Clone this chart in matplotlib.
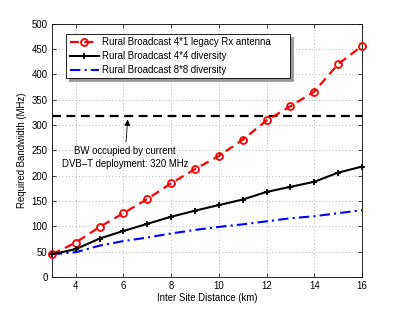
import matplotlib
matplotlib.use("Agg")
import matplotlib.pyplot as plt

plt.rcParams['font.family'] = ['Liberation Sans', 'DejaVu Sans']
plt.rcParams['font.size'] = 6.9

distance = [3, 4, 5, 6, 7, 8, 9, 10, 11, 12, 13, 14, 15, 16]
legacy_4x1 = [45, 68, 99, 126, 154, 185, 213, 239, 271, 309, 337, 366, 420, 456]
div_4x4 = [45, 55, 76, 91, 105, 119, 131, 142, 153, 168, 178, 188, 206, 218]
div_8x8 = [45, 49, 62, 71, 78, 86, 93, 99, 104, 110, 116, 120, 126, 132]
dvbt_bw = 318

fig = plt.figure(figsize=(3.99, 3.12), dpi=100)
ax = fig.add_axes([0.13, 0.112, 0.777, 0.812])

ax.plot(distance, legacy_4x1, color="red", linestyle="--", linewidth=1.6,
        marker="o", markersize=5, markerfacecolor="none", markeredgewidth=1.3,
        dashes=(4, 2.5), clip_on=False, zorder=4,
        label="Rural Broadcast 4*1 legacy Rx antenna")
ax.plot(distance, div_4x4, color="black", linestyle="-", linewidth=1.5,
        marker="+", markersize=5, markeredgewidth=1.3, clip_on=False, zorder=4,
        label="Rural Broadcast 4*4 diversity")
ax.plot(distance, div_8x8, color="blue", linestyle="-.", linewidth=1.5,
        dashes=(5, 2, 1, 2), label="Rural Broadcast 8*8 diversity")
ax.axhline(dvbt_bw, color="black", linestyle="--", linewidth=1.6, dashes=(4, 2.5))

ax.annotate("BW occupied by current\nDVB\u2013T deployment: 320 MHz",
            xy=(6.18, 311), xytext=(6.06, 236), ha="center", va="center",
            arrowprops=dict(arrowstyle="-|>", color="black", lw=0.6,
                            mutation_scale=9, shrinkA=1, shrinkB=0),
            linespacing=1.3)

ax.set_xlim(3, 16)
ax.set_ylim(0, 500)
ax.set_xticks([4, 6, 8, 10, 12, 14, 16])
ax.set_yticks(range(0, 501, 50))
ax.set_xlabel("Inter Site Distance (km)", labelpad=1)
ax.set_ylabel("Required Bandwidth (MHz)", labelpad=3)
ax.tick_params(direction="in", length=3, width=0.5, top=True, right=True, pad=3)
ax.grid(True, linestyle=(0, (1, 3)), color="#999999", linewidth=0.6)
for s in ax.spines.values():
    s.set_linewidth(0.6)

leg = ax.legend(loc="upper left", bbox_to_anchor=(0.047, 0.78, 0.721, 0.18),
                mode="expand", fancybox=False,
                shadow={"color": "0.6", "alpha": 1}, framealpha=1,
                edgecolor="black", handlelength=3.0,
                borderpad=0.35, labelspacing=0.4, handletextpad=0.4,
                borderaxespad=0)
leg.get_frame().set_linewidth(0.6)

fig.savefig("out.png", dpi=100)
